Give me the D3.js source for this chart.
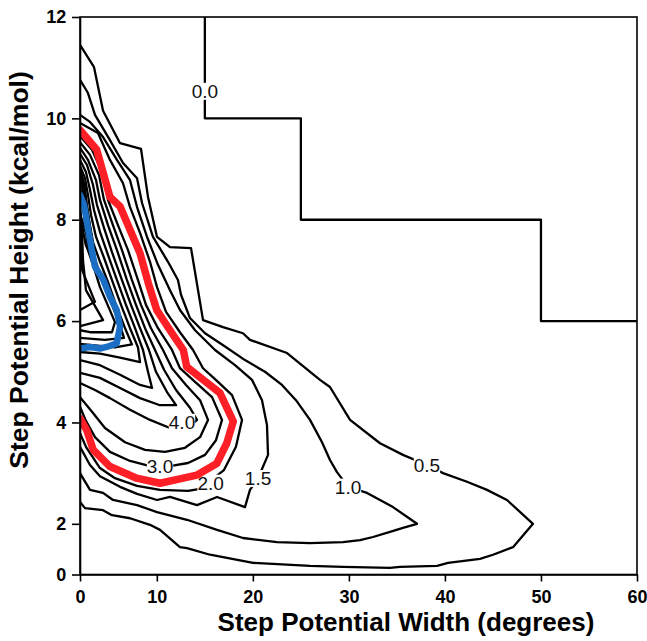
<!DOCTYPE html>
<html>
<head>
<meta charset="utf-8">
<script src="https://cdn.jsdelivr.net/npm/d3@7"></script>
<style>
  body { margin: 0; background: #fff; }
  svg { font-family: 'Liberation Sans', Arial, sans-serif; }
</style>
</head>
<body>
<div id="chart"></div>
<script>
// tick values (first tick of each axis is printed as "0", like the original figure)
var xTicks = [2, 10, 20, 30, 40, 50, 60]
var yTicks = [1, 2, 4, 6, 8, 10, 12]

// contour lines as [width, height] points
var level00 = [[15, 12], [15, 10], [25, 10], [25, 8], [50, 8], [50, 6], [60, 6]]

var level05 = [[2, 11.45], [3.46, 11.01], [4.4, 10.15], [6.17, 9.51], [8.35, 9.4], [9.08, 8.45], [10.02, 7.66],
  [11.37, 7.46], [13.56, 7.44], [14.81, 6.02], [16.89, 5.88], [18.97, 5.76], [19.7, 5.63], [23.56, 5.37],
  [26.99, 4.84], [28.03, 4.7], [30.12, 4.05], [33.24, 3.59], [35.63, 3.36], [38.13, 3.16], [39.8, 3.0],
  [42.3, 2.83], [44.38, 2.67], [46.46, 2.47], [49.17, 2.0], [47.09, 1.54], [45.01, 1.39], [43.65, 1.31],
  [40.32, 1.23], [39.18, 1.17], [35.32, 1.15], [34.28, 1.13], [29.39, 1.15], [25.95, 1.17], [20.02, 1.23],
  [15.54, 1.39], [13.14, 1.52], [12.41, 1.54], [10.33, 1.88], [9.29, 1.98], [7.21, 2.11], [5.33, 2.17],
  [4.4, 2.27], [2.52, 2.31], [2, 2.43]]

var level10 = [[2, 10.76], [2.83, 10.5], [3.56, 10.07], [5.12, 9.57], [6.48, 9.12], [7.94, 8.82], [8.46, 8.33],
  [9.6, 7.66], [11.16, 7.17], [12.2, 6.81], [12.52, 6.52], [13.45, 6.06], [15.02, 5.76], [17.1, 5.5],
  [19.18, 5.23], [21.26, 5.0], [23.03, 4.74], [24.49, 4.44], [25.95, 4.05], [27.2, 3.61], [28.03, 3.26],
  [28.76, 3.02], [29.91, 2.73], [31.89, 2.61], [34.59, 2.33], [37.09, 2.0], [35.63, 1.92], [34.28, 1.84],
  [32.51, 1.74], [31.16, 1.68], [29.39, 1.64], [25.95, 1.62], [22.51, 1.64], [18.97, 1.72], [16.27, 1.88],
  [13.14, 2.08], [10.02, 2.23], [7.94, 2.37], [5.44, 2.47], [4.4, 2.61], [3.04, 2.67], [2, 3.0]]

var level15 = [[2, 10.07], [3.04, 9.93], [4.4, 9.63], [5.85, 9.18], [7.21, 8.78], [7.94, 8.25], [8.98, 7.66],
  [10.12, 7.11], [11.37, 6.61], [12.41, 6.22], [13.98, 5.82], [16.06, 5.43], [18.14, 5.13], [19.91, 4.84],
  [20.95, 4.44], [21.47, 3.95], [21.58, 3.36], [20.54, 2.9], [19.7, 2.67], [19.18, 2.33], [16.27, 2.53],
  [14.18, 2.37], [11.37, 2.53], [10.02, 2.47], [7.94, 2.59], [6.17, 2.73], [4.08, 2.94], [3.04, 3.16], [2, 3.52]]

var level20 = [[2, 9.91], [3.87, 9.71], [5.12, 9.18], [6.48, 8.72], [7.21, 8.25], [8.25, 7.74], [9.29, 7.17],
  [10.02, 6.67], [10.96, 6.18], [12.41, 5.78], [13.77, 5.43], [14.81, 5.07], [16.37, 4.8], [17.83, 4.54],
  [18.87, 4.05], [18.24, 3.52], [16.99, 3.06], [14.5, 2.69], [13.25, 2.65], [10.33, 2.67], [7.94, 2.75],
  [5.64, 2.9], [4.08, 3.1], [2.62, 3.52], [2, 3.79]]

// highlighted contour (red)
var level25 = [[2, 9.77], [3.74, 9.38], [5.12, 8.45], [6.17, 8.26], [8.25, 7.34], [9.11, 6.75], [9.99, 6.22],
  [11.37, 5.82], [12.76, 5.43], [13.11, 5.1], [14.84, 4.84], [16.58, 4.58], [17.96, 4.02], [17.28, 3.59],
  [16.24, 3.19], [14.15, 2.96], [12.76, 2.9], [10.33, 2.8], [7.9, 2.9], [5.12, 3.13], [3.38, 3.46],
  [2.7, 3.85], [2, 4.08]]

var level30 = [[2, 9.65], [3.25, 9.38], [4.29, 8.94], [4.92, 8.39], [5.96, 7.89], [7.0, 7.4], [8.04, 6.81],
  [8.87, 6.32], [10.12, 5.86], [11.58, 5.43], [12.41, 5.07], [13.98, 4.8], [15.75, 4.5], [16.79, 4.05],
  [16.16, 3.65], [15.02, 3.36], [13.25, 3.2], [11.37, 3.14], [9.29, 3.14], [7.21, 3.24], [5.12, 3.42],
  [3.56, 3.71], [2.62, 4.03], [2, 4.31]]

var level35 = [[2, 9.53], [3.04, 9.28], [3.98, 8.88], [4.5, 8.39], [5.44, 7.89], [6.37, 7.4], [7.41, 6.81],
  [8.35, 6.32], [9.39, 5.86], [10.64, 5.43], [11.58, 5.07], [13.04, 4.74], [14.5, 4.44], [15.33, 4.05],
  [14.5, 3.71], [12.93, 3.5], [10.85, 3.42], [8.77, 3.46], [6.69, 3.61], [4.6, 3.89], [3.25, 4.21], [2, 4.5]]

var level40 = [[2, 9.42], [2.83, 9.18], [3.67, 8.78], [4.08, 8.39], [4.92, 7.89], [5.85, 7.4], [6.89, 6.81],
  [7.83, 6.32], [8.77, 5.86], [9.81, 5.43], [10.75, 5.04], [12.0, 4.64], [13.45, 4.29], [14.18, 4.05],
  [13.25, 3.89], [11.37, 3.89], [9.29, 4.05], [7.21, 4.25], [5.12, 4.48], [3.56, 4.64], [2, 4.78]]

var level45 = [[2, 9.3], [2.73, 9.08], [3.35, 8.69], [3.77, 8.29], [4.5, 7.84], [5.33, 7.36], [6.37, 6.81],
  [7.31, 6.32], [8.25, 5.86], [9.18, 5.43], [9.91, 5.0], [11.06, 4.6], [12.0, 4.34], [10.33, 4.34],
  [8.25, 4.48], [6.17, 4.68], [4.08, 4.88], [2, 4.98]]

var level50 = [[2, 9.18], [2.62, 8.94], [3.04, 8.59], [3.46, 8.19], [4.08, 7.76], [4.92, 7.3], [5.85, 6.81],
  [6.79, 6.32], [7.73, 5.86], [8.56, 5.43], [9.08, 5.0], [9.5, 4.68], [8.25, 4.74], [6.17, 4.94],
  [4.08, 5.13], [2, 5.23]]

var level55 = [[2, 9.06], [2.52, 8.82], [2.83, 8.49], [3.15, 8.09], [3.67, 7.66], [4.5, 7.25], [5.33, 6.81],
  [6.27, 6.32], [7.21, 5.86], [8.04, 5.48], [8.25, 5.19], [6.17, 5.28], [4.08, 5.36], [2, 5.39]]

var level60 = [[2, 8.94], [2.42, 8.7], [2.62, 8.39], [2.94, 7.99], [3.35, 7.56], [4.08, 7.17], [4.92, 6.77],
  [5.75, 6.32], [6.69, 5.86], [7.41, 5.54], [5.64, 5.48], [3.56, 5.52], [2, 5.55]]

var level65 = [[2, 8.82], [2.31, 8.59], [2.52, 8.29], [2.73, 7.89], [3.04, 7.48], [3.77, 7.11], [4.5, 6.73],
  [5.33, 6.32], [6.17, 5.92], [6.58, 5.67], [4.6, 5.63], [2, 5.67]]

var level70 = [[2, 8.67], [2.21, 8.43], [2.42, 8.15], [2.62, 7.76], [2.83, 7.4], [3.46, 7.05], [4.08, 6.67],
  [4.92, 6.3], [5.64, 5.98], [5.33, 5.78], [3.04, 5.78], [2, 5.82]]

var level75 = [[2, 8.29], [2.21, 7.8], [2.31, 7.21], [2.62, 6.61], [4.4, 6.02], [2, 5.9]]

var level80 = [[2, 8.15], [2.1, 7.6], [2.21, 7.01], [3.56, 6.38], [2, 6.22]]

// extra lines packed into the dark core near the peak
var level85 = [[2, 9.0], [2.45, 8.7], [2.7, 8.3], [3.0, 7.9], [3.4, 7.45], [3.2, 7.25], [2.6, 7.5], [2.2, 7.9], [2, 8.0]]

var level90 = [[2, 8.9], [2.35, 8.55], [2.6, 8.2], [2.8, 7.85], [2.6, 7.75], [2.3, 7.95], [2, 8.1]]

// second highlighted path (blue)
var bluePath = [[2, 8.49], [2.42, 8.29], [2.86, 7.8], [3.22, 7.41], [3.56, 7.07], [4.43, 6.81], [5.12, 6.48],
  [5.82, 6.22], [6.17, 5.89], [5.82, 5.56], [4.78, 5.49], [4.08, 5.46], [3.04, 5.49], [2, 5.46]]

// contour labels: text and where it sits
var labelText = ['0.0', '0.5', '1.0', '1.5', '2.0', '3.0', '4.0']
var labelAt = [[15, 10.54], [38.13, 3.16], [29.91, 2.73], [20.54, 2.9], [15.6, 2.81], [10.33, 3.14], [12.62, 4.01]]

var blackLines = [level00, level05, level10, level15, level20, level30, level35, level40, level45,
  level50, level55, level60, level65, level70, level75, level80, level85, level90]

// Set up margin/height/width
var margin = { top: 17, left: 80, right: 10, bottom: 66.5 }
var width = 647 - margin.left - margin.right
var height = 641 - margin.top - margin.bottom

var svg = d3
  .select('#chart')
  .append('svg')
  .attr('width', 647)
  .attr('height', 641)
  .append('g')
  .attr('transform', 'translate(' + margin.left + ',' + margin.top + ')')

var xPositionScale = d3.scaleLinear().domain([2, 60]).range([0, width])
var yPositionScale = d3.scaleLinear().domain([1, 12]).range([height, 0])

var line = d3
  .line()
  .x(d => xPositionScale(d[0]))
  .y(d => yPositionScale(d[1]))

svg
  .append('clipPath')
  .attr('id', 'plot-clip')
  .append('rect')
  .attr('width', width)
  .attr('height', height)

var plot = svg.append('g').attr('clip-path', 'url(#plot-clip)')

plot
  .selectAll('.contour')
  .data(blackLines)
  .enter()
  .append('path')
  .attr('class', 'contour')
  .attr('d', line)
  .attr('fill', 'none')
  .attr('stroke', '#000')
  .attr('stroke-width', 2.3)
  .attr('stroke-linejoin', 'round')

// labels sit in a small white gap cut into their line
var labels = plot
  .selectAll('.clabel')
  .data(labelText)
  .enter()
  .append('g')
  .attr('class', 'clabel')
  .attr('transform', (d, i) => 'translate(' + xPositionScale(labelAt[i][0]) + ',' + yPositionScale(labelAt[i][1]) + ')')

labels
  .append('text')
  .text(d => d)
  .attr('text-anchor', 'middle')
  .attr('dy', '0.36em')
  .attr('font-size', 19)
  .attr('fill', '#111')

labels.each(function() {
  var g = d3.select(this)
  var box = g.select('text').node().getBBox()
  g.insert('rect', 'text')
    .attr('x', box.x)
    .attr('y', box.y + 2)
    .attr('width', box.width)
    .attr('height', box.height - 4)
    .attr('fill', '#fff')
})

plot
  .append('path')
  .datum(level25)
  .attr('d', line)
  .attr('fill', 'none')
  .attr('stroke', '#ff1f26')
  .attr('stroke-width', 7.5)
  .attr('stroke-linejoin', 'round')
  .attr('stroke-linecap', 'round')

plot
  .append('path')
  .datum(bluePath)
  .attr('d', line)
  .attr('fill', 'none')
  .attr('stroke', '#1a6fc4')
  .attr('stroke-width', 6.5)
  .attr('stroke-linejoin', 'round')
  .attr('stroke-linecap', 'round')

// frame
svg
  .append('rect')
  .attr('width', width)
  .attr('height', height)
  .attr('fill', 'none')
  .attr('stroke', '#000')
  .attr('stroke-width', 1.6)

var xAxis = d3
  .axisBottom(xPositionScale)
  .tickValues(xTicks)
  .tickFormat(d => (d === 2 ? '0' : d))
  .tickSize(7)
  .tickSizeOuter(0)

svg
  .append('g')
  .attr('class', 'axis x-axis')
  .attr('transform', 'translate(0,' + height + ')')
  .call(xAxis)

var yAxis = d3
  .axisLeft(yPositionScale)
  .tickValues(yTicks)
  .tickFormat(d => (d === 1 ? '0' : d))
  .tickSize(8)
  .tickSizeOuter(0)

svg
  .append('g')
  .attr('class', 'axis y-axis')
  .call(yAxis)

svg.selectAll('.axis path').attr('stroke-width', 1.6)
svg.selectAll('.axis line').attr('stroke-width', 1.6)
svg
  .selectAll('.axis text')
  .attr('font-size', 18)
  .attr('font-weight', 'bold')
  .attr('fill', '#000')
  .attr('font-family', "'Liberation Sans', Arial, sans-serif")
svg.selectAll('.x-axis text').attr('dy', '1.0em')
svg.selectAll('.y-axis text').attr('dx', '-0.15em')

svg
  .append('text')
  .text('Step Potential Width (degrees)')
  .attr('x', 326)
  .attr('y', 614)
  .attr('text-anchor', 'middle')
  .attr('font-size', 26)
  .attr('font-weight', 'bold')

svg
  .append('text')
  .text('Step Potential Height (kcal/mol)')
  .attr('transform', 'translate(-52,' + 253 + ') rotate(-90)')
  .attr('text-anchor', 'middle')
  .attr('font-size', 26.5)
  .attr('font-weight', 'bold')
</script>
</body>
</html>
